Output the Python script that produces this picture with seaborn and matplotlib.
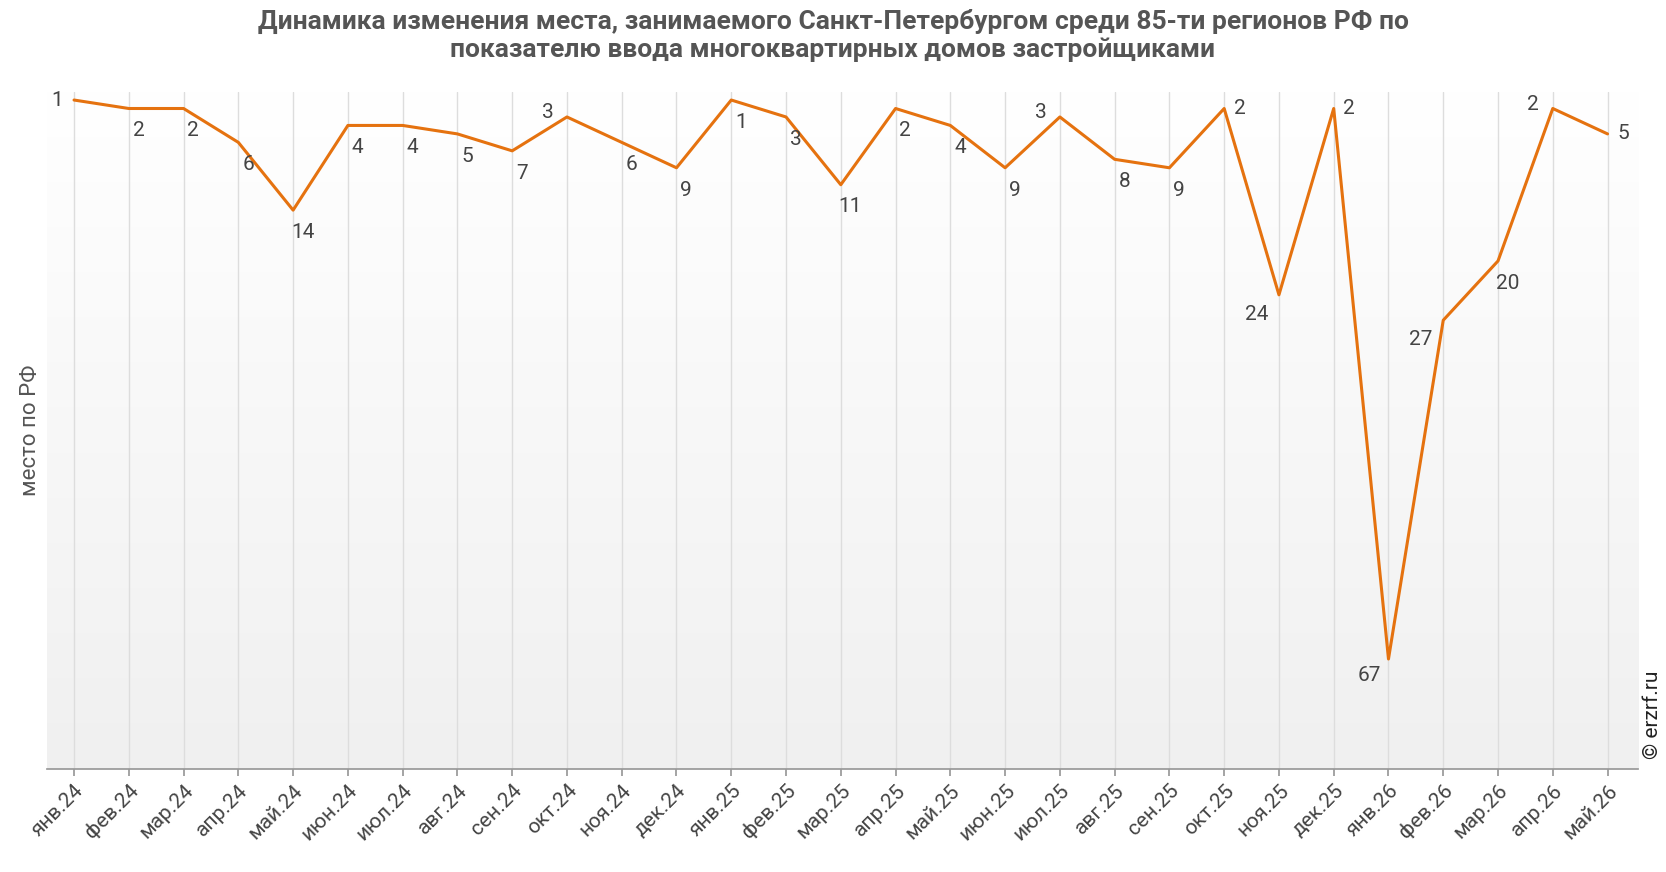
import matplotlib
matplotlib.use("Agg")
import matplotlib.pyplot as plt
import seaborn as sns
import numpy as np

months = ["янв.24","фев.24","мар.24","апр.24","май.24","июн.24","июл.24","авг.24","сен.24","окт.24","ноя.24","дек.24",
          "янв.25","фев.25","мар.25","апр.25","май.25","июн.25","июл.25","авг.25","сен.25","окт.25","ноя.25","дек.25",
          "янв.26","фев.26","мар.26","апр.26","май.26"]
places = [1,2,2,6,14,4,4,5,7,3,6,9,1,3,11,2,4,9,3,8,9,2,24,2,67,27,20,2,5]

sns.set_theme(style="white")
plt.rcParams['font.family'] = ['Roboto', 'DejaVu Sans']

fig = plt.figure(figsize=(16.66, 8.72), dpi=100)
ax = fig.add_axes([0.028, 0.118, 0.955, 0.777])
x = np.arange(len(months))
ax.set_xlim(-0.5, len(months) - 0.45)
ax.set_ylim(80, 0)

grad = np.linspace(0, 1, 256).reshape(-1, 1)
ax.imshow(grad, aspect='auto', cmap=matplotlib.colors.LinearSegmentedColormap.from_list('g', ['#ffffff', '#f0f0f0']),
          extent=[-0.5, len(months) - 0.45, 80, 0], zorder=0)

for xi in x:
    ax.axvline(xi, color='#dddddd', lw=1, zorder=1)

sns.lineplot(x=x, y=places, ax=ax, color='#e5720f', lw=2.2, zorder=3)

above_left = {9, 18, 27}
right = {21, 23, 28}
left = {0}
up_left = {22, 25}
for i, v in enumerate(places):
    if i in left:
        off = (-12, 0)
    elif i in right:
        off = (11, 0)
    elif i in above_left:
        off = (-14, 3)
    elif i in up_left:
        off = (-16, -14)
    elif v == 67:
        off = (-14, -12)
    else:
        off = (7, -16)
    ax.annotate(str(v), (i, v), xytext=off, textcoords='offset points', ha='center', va='center', fontsize=15, color='#444')

ax.set_xticks(x)
ax.set_xticklabels(months, rotation=45, ha='right', rotation_mode='anchor', fontsize=15, color='#444')
ax.tick_params(axis='x', length=5, color='#999', bottom=True)
ax.set_yticks([])
ax.set_ylabel("место по РФ", fontsize=16, color='#555')
for s in ['top', 'right', 'left']:
    ax.spines[s].set_visible(False)
ax.spines['bottom'].set_color('#999')

fig.suptitle("Динамика изменения места, занимаемого Санкт-Петербургом среди 85-ти регионов РФ по\nпоказателю ввода многоквартирных домов застройщиками",
             fontsize=19, fontweight='bold', color='#555', x=0.5, y=0.99)
fig.text(0.992, 0.13, "© erzrf.ru", rotation=90, fontsize=15, color='#222', ha='center', va='bottom')

fig.savefig("out.png", dpi=100)
